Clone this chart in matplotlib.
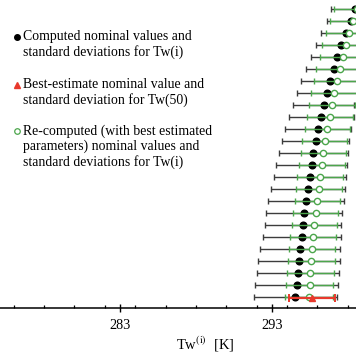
import numpy as np
import matplotlib
matplotlib.use("Agg")
import matplotlib.pyplot as plt
from matplotlib.lines import Line2D
from matplotlib.ticker import MultipleLocator

plt.rcParams['font.family'] = ['Liberation Serif', 'DejaVu Serif']
plt.rcParams['mathtext.fontset'] = 'stix'

# rows, bottom (i = 50) to top
idx = np.arange(50, 25, -1)

# computed nominal values / standard deviations for Tw(i)
tw_comp = [294.56, 294.65, 294.71, 294.80, 294.89, 294.98, 295.06, 295.15, 295.28,
           295.39, 295.50, 295.64, 295.74, 295.90, 296.07, 296.27, 296.43, 296.65,
           296.86, 297.09, 297.32, 297.59, 297.88, 298.21, 298.49]
sd_comp = [2.72, 2.73, 2.70, 2.68, 2.64, 2.57, 2.52, 2.50, 2.50, 2.44, 2.37, 2.33,
           2.26, 2.22, 2.18, 2.13, 2.02, 2.00, 1.91, 1.85, 1.75, 1.69, 1.61, 1.54, 1.56]

# re-computed with best estimated parameters
tw_re = [295.44, 295.50, 295.54, 295.61, 295.68, 295.72, 295.81, 295.90, 296.01,
         296.12, 296.20, 296.30, 296.40, 296.49, 296.67, 296.82, 296.96, 297.11,
         297.30, 297.50, 297.68, 297.88, 298.10, 298.34, 298.62]
sd_re = [1.58, 1.56, 1.55, 1.54, 1.52, 1.50, 1.50, 1.49, 1.49, 1.50, 1.52, 1.50,
         1.48, 1.47, 1.49, 1.52, 1.50, 1.50, 1.54, 1.56, 1.52, 1.54, 1.52, 1.50, 1.50]

# best estimate for Tw(50)
tw_best = 295.66
sd_best = 1.54

ypos = 51 - idx

W, H = 356, 364
fig = plt.figure(figsize=(W / 100, H / 100), dpi=100)
ax = fig.add_axes([-1.4 / W, 56 / H, 412.7 / W, 308 / H])

green = '#4ca64c'
red = '#e8392c'

ax.errorbar(tw_comp, ypos, xerr=sd_comp, fmt='o', color='black', ms=4.8,
            ecolor='#3c3c3c', elinewidth=1.0, capsize=2.3, capthick=1.0, zorder=2)
ax.errorbar(tw_re, ypos, xerr=sd_re, fmt='o', mfc='white', mec=green, ms=4.5, mew=1.0,
            ecolor=green, elinewidth=1.0, capsize=2.3, capthick=1.0, zorder=3)
ax.errorbar([tw_best], [ypos[0] - 0.08], xerr=[sd_best], fmt='^', color=red, ms=5.0,
            ecolor=red, elinewidth=1.6, capsize=3.0, capthick=1.4, zorder=4)

ax.set_xlim(275.0, 302.2)
ax.set_ylim(0.056, 25.79)
for s in ['left', 'right', 'top']:
    ax.spines[s].set_visible(False)
ax.spines['bottom'].set_linewidth(1.1)
ax.set_yticks([])
ax.xaxis.set_minor_locator(MultipleLocator(2))
ax.set_xticks([283, 293])
ax.tick_params(axis='x', which='major', direction='inout', length=5.5, width=1.0,
               labelsize=10.3, pad=5)
ax.tick_params(axis='x', which='minor', direction='in', length=2.2, width=0.9)
ax.set_xlabel(r'Tw$^{\rm (i)}$  [K]', fontsize=10.5, labelpad=2)

# legend drawn by hand, one text per line
items = [
    (37, 40, dict(marker='o', color='black', ms=4.0),
     ['Computed nominal values and', 'standard deviations for Tw(i)']),
    (85, 88.5, dict(marker='^', color=red, ms=4.6),
     ['Best-estimate nominal value and', 'standard deviation for Tw(50)']),
    (131, 134.5, dict(marker='o', mfc='white', mec=green, mew=0.9, ms=4.0),
     ['Re-computed (with best estimated', 'parameters) nominal values and',
      'standard deviations for Tw(i)']),
]
for my, ty, mk, lines in items:
    fig.add_artist(Line2D([16.5 / W], [1 - my / H], linestyle='none', **mk))
    for k, line in enumerate(lines):
        fig.text(23 / W, 1 - (ty + 15.8 * k) / H, line, fontsize=9.9,
                 va='baseline', ha='left')

fig.savefig('out.png', dpi=100)
